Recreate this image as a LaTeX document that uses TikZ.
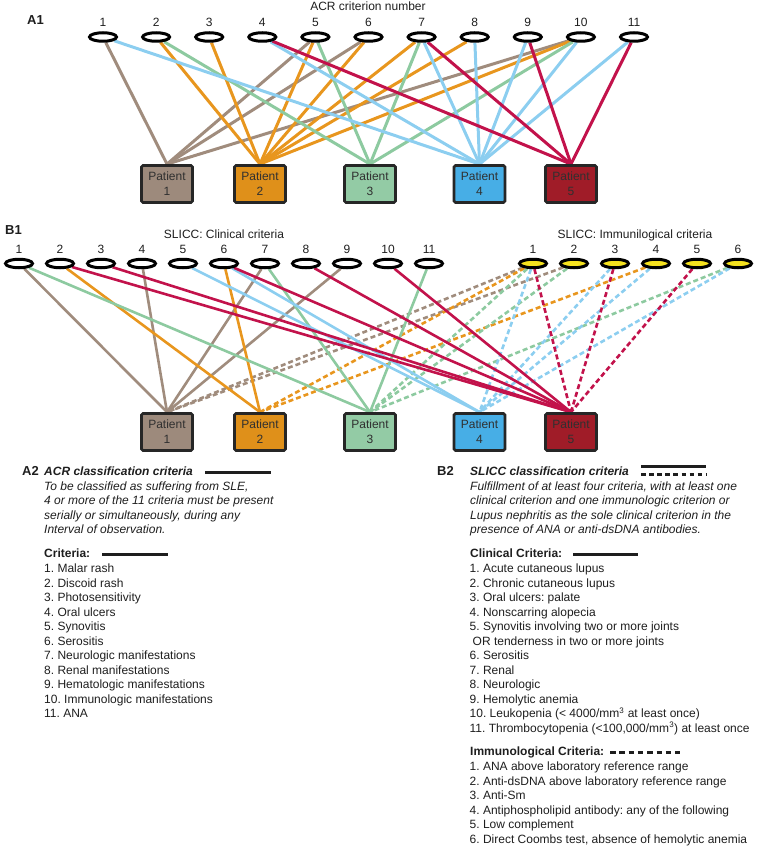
\documentclass[tikz,border=0pt]{standalone}
\usepackage{fontspec}
\setmainfont{Liberation Sans}
\usetikzlibrary{shapes.geometric,backgrounds}
\definecolor{lbr}{HTML}{A08C7D}
\definecolor{lor}{HTML}{E8961E}
\definecolor{lgr}{HTML}{8DCAA0}
\definecolor{lbl}{HTML}{8CCEF0}
\definecolor{lrd}{HTML}{C2124B}
\definecolor{fbr}{HTML}{9D8A7C}
\definecolor{forg}{HTML}{DF901A}
\definecolor{fgr}{HTML}{93CBA5}
\definecolor{fbl}{HTML}{47AEE6}
\definecolor{frd}{HTML}{A01C28}
\definecolor{ylw}{HTML}{F5E21E}
\definecolor{pbd}{HTML}{262626}
\definecolor{ptx}{HTML}{303030}
\definecolor{tx}{HTML}{1E1E1E}
\begin{document}
\frenchspacing
\begin{tikzpicture}[x=1pt,y=-1pt,
  crit/.style={ellipse,draw=black,line width=3pt,fill=white,minimum width=27pt,minimum height=8.5pt,inner sep=0pt},
  imm/.style={crit,fill=ylw},
  pat/.style={draw=pbd,line width=2.8pt,rounded corners=1.5pt,minimum width=51pt,minimum height=37pt,inner sep=0pt,align=center,text=ptx,font=\fontsize{12}{15}\selectfont},
  num/.style={anchor=base,inner sep=0pt,text=tx,font=\fontsize{12}{14}\selectfont},
  txt/.style={anchor=base west,inner sep=0pt,text=tx,font=\fontsize{12}{14}\selectfont},
  itx/.style={txt,font=\fontsize{12}{14}\selectfont\itshape},
  hd/.style={txt,font=\fontsize{12}{14}\selectfont\bfseries},
  bhd/.style={txt,font=\fontsize{12}{14}\selectfont\bfseries\itshape},
  lab/.style={txt,font=\fontsize{13}{14}\selectfont\bfseries},
  lA/.style={line width=3pt},
  lB/.style={line width=2.6pt},
  dB/.style={line width=2.6pt,dash pattern=on 5pt off 3pt},
  leg/.style={line width=3pt,draw=tx}
]
\useasboundingbox (0,0) rectangle (758,848);

% ---------------- A1 ----------------
\node[lab] (labA1) at (27,25) {A1};
\node[num] (ttlA1) at (368,10.5) {ACR criterion number};
\foreach \i in {1,...,11}{
  \node[crit] (a\i) at ({103+53.1*(\i-1)},37) {};
  \node[num] (an\i) at ({103+53.1*(\i-1)},27) {\i};
}
\node[pat,fill=fbr] (pa1) at (167,184) {\raisebox{-1.5pt}{Patient}\\\raisebox{-1.5pt}{1}};
\node[pat,fill=forg] (pa2) at (260,184) {\raisebox{-1.5pt}{Patient}\\\raisebox{-1.5pt}{2}};
\node[pat,fill=fgr] (pa3) at (370,184) {\raisebox{-1.5pt}{Patient}\\\raisebox{-1.5pt}{3}};
\node[pat,fill=fbl] (pa4) at (479.5,184) {\raisebox{-1.5pt}{Patient}\\\raisebox{-1.5pt}{4}};
\node[pat,fill=frd] (pa5) at (571,184) {\raisebox{-1.5pt}{Patient}\\\raisebox{-1.5pt}{5}};

\begin{scope}[on background layer]
\foreach \p/\col/\lst in {1/lbr/{1,5,6,10},2/lor/{2,3,5,6,7,8,10},3/lgr/{2,5,7,10},4/lbl/{1,4,7,8,9,10,11},5/lrd/{4,7,9,11}}{
  \foreach \c in \lst { \draw[lA,draw=\col] (a\c) -- (pa\p.north); }
}
\end{scope}

% ---------------- B1 ----------------
\node[lab] (labB1) at (5,234.5) {B1};
\node[num] (ttlB1c) at (224,238.5) {SLICC: Clinical criteria};
\node[num] (ttlB1i) at (635,238.5) {SLICC: Immunilogical criteria};
\foreach \i in {1,...,11}{
  \node[crit] (c\i) at ({19+41*(\i-1)},263.5) {};
  \node[num] (cn\i) at ({19+41*(\i-1)},253.5) {\i};
}
\foreach \i in {1,...,6}{
  \node[imm] (m\i) at ({533+41*(\i-1)},263.5) {};
  \node[num] (mn\i) at ({533+41*(\i-1)},253.5) {\i};
}
\node[pat,fill=fbr] (pb1) at (167,432) {\raisebox{-1.5pt}{Patient}\\\raisebox{-1.5pt}{1}};
\node[pat,fill=forg] (pb2) at (260,432) {\raisebox{-1.5pt}{Patient}\\\raisebox{-1.5pt}{2}};
\node[pat,fill=fgr] (pb3) at (370,432) {\raisebox{-1.5pt}{Patient}\\\raisebox{-1.5pt}{3}};
\node[pat,fill=fbl] (pb4) at (479.5,432) {\raisebox{-1.5pt}{Patient}\\\raisebox{-1.5pt}{4}};
\node[pat,fill=frd] (pb5) at (571,432) {\raisebox{-1.5pt}{Patient}\\\raisebox{-1.5pt}{5}};

\begin{scope}[on background layer]
\foreach \p/\col/\lst in {1/lbr/{1,2},2/lor/{1,4},3/lgr/{1,2,6},4/lbl/{1,3,4,6},5/lrd/{1,3,5}}{
  \foreach \c in \lst { \draw[dB,draw=\col] (m\c) -- (pb\p.north); }
}
\foreach \p/\col/\lst in {1/lbr/{1,4,7,9},2/lor/{2,6},3/lgr/{1,7,11},4/lbl/{5,6},5/lrd/{2,3,6,8,10}}{
  \foreach \c in \lst { \draw[lB,draw=\col] (c\c) -- (pb\p.north); }
}
\end{scope}

% ---------------- A2 ----------------
\node[lab] (labA2) at (22,475.5) {A2};
\node[bhd] (ttlA2) at (44,475.5) {ACR classification criteria};
\draw[leg] (205,472) -- (271,472);
\node[itx] (a2l1) at (44,490) {To be classified as suffering from SLE,};
\node[itx] (a2l2) at (44,504.5) {4 or more of the 11 criteria must be present};
\node[itx] (a2l3) at (44,519) {serially or simultaneously, during any};
\node[itx] (a2l4) at (44,533.5) {Interval of observation.};
\node[hd] (critA) at (44,557.5) {Criteria:};
\draw[leg] (102,554) -- (168,554);
\foreach \t [count=\i from 0] in {1. Malar rash,2. Discoid rash,3. Photosensitivity,4. Oral ulcers,5. Synovitis,6. Serositis,7. Neurologic manifestations,8. Renal manifestations,9. Hematologic manifestations,10. Immunologic manifestations,11. ANA}{
  \node[txt] (ai\i) at (44,{572.5+14.5*\i}) {\t};
}

% ---------------- B2 ----------------
\node[lab] (labB2) at (437,475.5) {B2};
\node[bhd] (ttlB2) at (470,475.5) {SLICC classification criteria};
\draw[leg] (641,466) -- (706,466);
\draw[leg,dash pattern=on 4.5pt off 3.6pt] (641,474) -- (706,474);
\node[itx] (b2l1) at (470,490) {Fulfillment of at least four criteria, with at least one};
\node[itx] (b2l2) at (470,504.5) {clinical criterion and one immunologic criterion or};
\node[itx] (b2l3) at (470,519) {Lupus nephritis as the sole clinical criterion in the};
\node[itx] (b2l4) at (470,533.5) {presence of ANA or anti-dsDNA antibodies.};
\node[hd] (critBc) at (470,557.5) {Clinical Criteria:};
\draw[leg] (573,554) -- (638,554);
\foreach \t [count=\i from 0] in {1. Acute cutaneous lupus,2. Chronic cutaneous lupus,3. Oral ulcers: palate,4. Nonscarring alopecia,5. Synovitis involving two or more joints,{\hspace{3pt}OR tenderness in two or more joints},6. Serositis,7. Renal,8. Neurologic,9. Hemolytic anemia,{10. Leukopenia (< 4000/mm\textsuperscript{3} at least once)},{11. Thrombocytopenia (<100,000/mm\textsuperscript{3}) at least once}}{
  \node[txt] (bc\i) at (469.5,{572.5+14.5*\i}) {\t};
}
\node[hd] (critBi) at (470,755.5) {Immunological Criteria:};
\draw[leg,dash pattern=on 5.5pt off 3.8pt] (610,752) -- (680,752);
\foreach \t [count=\i from 0] in {1. ANA above laboratory reference range,2. Anti-dsDNA above laboratory reference range,3. Anti-Sm,4. Antiphospholipid antibody: any of the following,5. Low complement,{6. Direct Coombs test, absence of hemolytic anemia}}{
  \node[txt] (bi\i) at (469.5,{770.5+14.5*\i}) {\t};
}
\end{tikzpicture}
\end{document}
